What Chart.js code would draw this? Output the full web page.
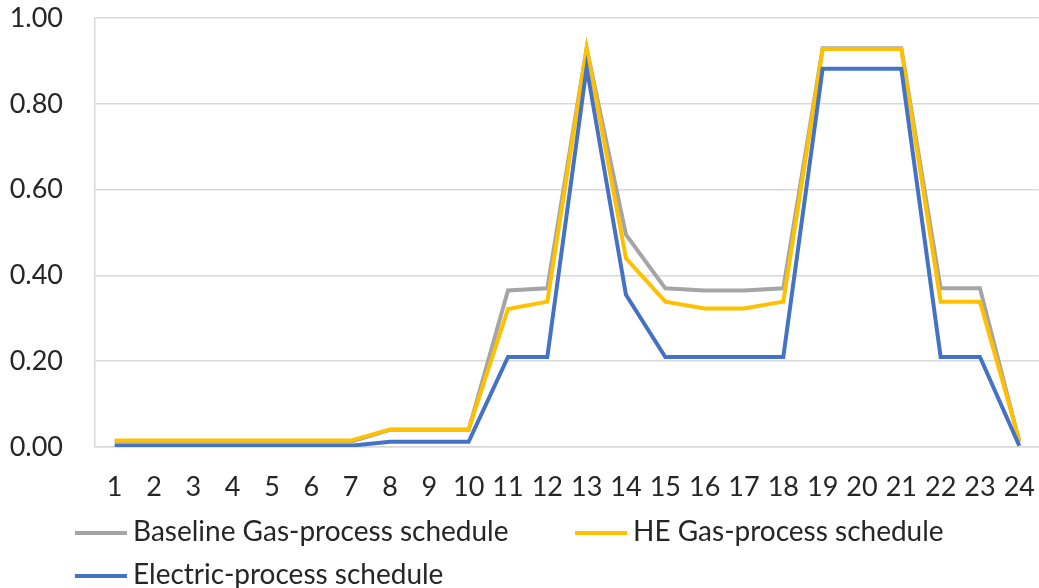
<!DOCTYPE html>
<html>
<head>
<meta charset="utf-8">
<script src="https://cdn.jsdelivr.net/npm/chart.js@4.4.0/dist/chart.umd.min.js"></script>
<style>
  html, body { margin: 0; padding: 0; background: #fff; }
  #wrap { position: relative; width: 1039px; height: 588px; overflow: hidden; }
  canvas { position: absolute; left: 0; top: 0; }
  .leg { position: absolute; font-family: Lato, "Open Sans", sans-serif; font-size: 28px; color: #262626; white-space: nowrap; line-height: 32px; }
  .leg .sw { display: inline-block; width: 52px; height: 4px; vertical-align: middle; margin-right: 6px; position: relative; top: -1px; }
</style>
</head>
<body>
<div id="wrap">
  <canvas id="c" width="1039" height="588"></canvas>
  <div class="leg" id="leg0" style="left:75px; top:514px;"></div>
  <div class="leg" id="leg1" style="left:575px; top:514px;"></div>
  <div class="leg" id="leg2" style="left:75px; top:557px;"></div>
</div>
<script>
const hours = ['1','2','3','4','5','6','7','8','9','10','11','12','13','14','15','16','17','18','19','20','21','22','23','24'];
const seriesNames = ['Baseline Gas-process schedule', 'HE Gas-process schedule', 'Electric-process schedule'];
const baselineGas = [0.012,0.012,0.012,0.012,0.012,0.012,0.012,0.040,0.040,0.040,0.365,0.370,0.930,0.495,0.370,0.365,0.365,0.370,0.930,0.930,0.930,0.370,0.370,0.012];
const heGas = [0.015,0.015,0.015,0.015,0.015,0.015,0.015,0.041,0.041,0.041,0.322,0.339,0.930,0.440,0.339,0.323,0.323,0.339,0.928,0.928,0.928,0.339,0.339,0.015];
const electric = [0.003,0.003,0.003,0.003,0.003,0.003,0.003,0.012,0.012,0.012,0.210,0.210,0.885,0.355,0.210,0.210,0.210,0.210,0.882,0.882,0.882,0.210,0.210,0.003];
const yTicks = [0, 0.2, 0.4, 0.6, 0.8, 1.0];
const colors = ['#A5A5A5', '#FFC000', '#4472C4'];

const seriesData = [baselineGas, heGas, electric];
['leg0','leg1','leg2'].forEach((id, i) => {
  const el = document.getElementById(id);
  const sw = document.createElement('span');
  sw.className = 'sw';
  sw.style.background = colors[i];
  el.appendChild(sw);
  el.appendChild(document.createTextNode(seriesNames[i]));
});

const font = { family: 'Lato, "Open Sans", sans-serif', size: 27 };
const canvas = document.getElementById('c');
const chart = new Chart(canvas, {
  type: 'line',
  data: {
    labels: hours,
    datasets: seriesData.map((d, i) => ({
      label: seriesNames[i],
      data: d,
      borderColor: colors[i],
      backgroundColor: colors[i],
      borderWidth: 4,
      pointRadius: 0,
      tension: 0,
      fill: false,
      order: 3 - i
    }))
  },
  options: {
    responsive: false,
    maintainAspectRatio: false,
    animation: false,
    devicePixelRatio: 1,
    layout: { padding: 0 },
    plugins: { legend: { display: false }, tooltip: { enabled: false } },
    scales: {
      x: {
        offset: true,
        grid: { display: false },
        border: { display: true, color: '#D9D9D9', width: 1.5 },
        ticks: { color: '#262626', font: font, maxRotation: 0, autoSkip: false, padding: 16 },
        afterFit: (s) => { s.height = 141; }
      },
      y: {
        min: 0, max: 1,
        afterBuildTicks: (s) => { s.ticks = yTicks.map(v => ({ value: v })); },
        grid: { color: '#D9D9D9', lineWidth: 1.5, drawTicks: false },
        border: { display: true, color: '#D9D9D9', width: 1.5 },
        ticks: { color: '#262626', font: font, padding: 32, callback: (v) => Number(v).toFixed(2) },
        afterFit: (s) => { s.width = 95; }
      }
    }
  }
});
// align plot area with the reference frame (top 18, right edge 1039)
const ca = chart.chartArea;
const dy = Math.round(ca.top - 18);
const dx = Math.round(1039 - ca.right);
canvas.style.top = (-dy) + 'px';
chart.resize(1039 + dx, 588 + dy);
</script>
</body>
</html>
